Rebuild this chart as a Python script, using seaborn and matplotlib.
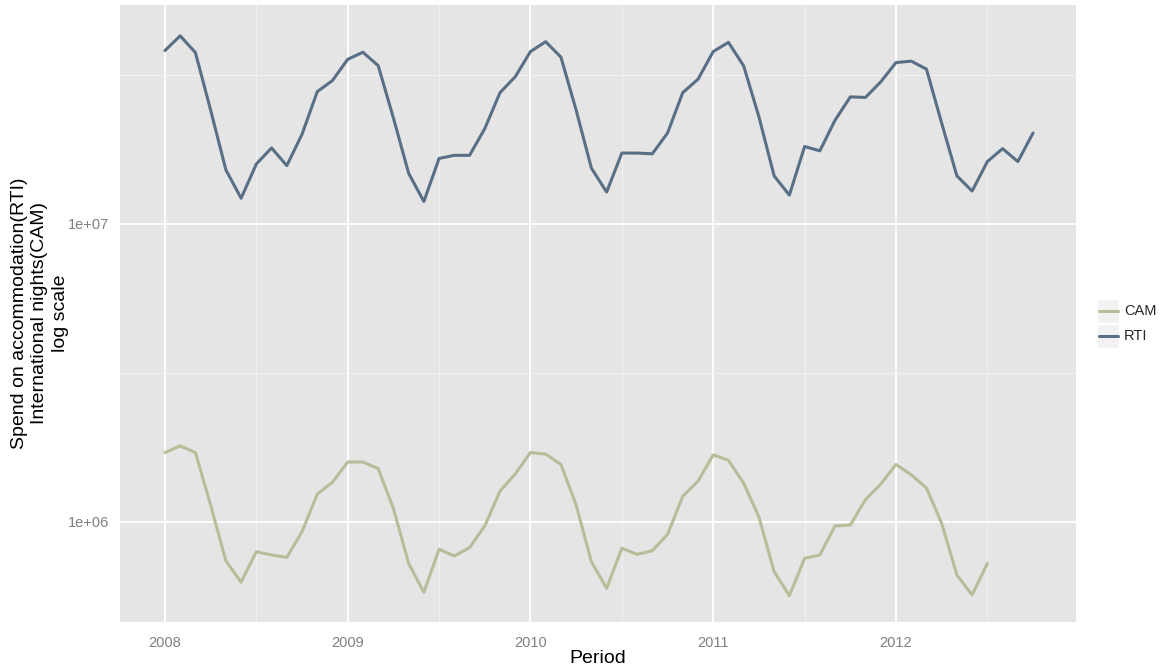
import matplotlib
matplotlib.use("Agg")
import matplotlib.pyplot as plt
from matplotlib.ticker import FixedLocator, FixedFormatter
from matplotlib.patches import Rectangle
import numpy as np
import pandas as pd
import seaborn as sns

# Monthly series starting January 2008
start_year = 2008

# Spend on accommodation (RTI), Jan 2008 - Oct 2012
rti_values = [
    38.2e6, 42.8e6, 37.6e6, 24.1e6, 15.2e6, 12.2e6, 15.9e6, 18.0e6, 15.7e6, 20.0e6, 27.8e6, 30.3e6,
    35.7e6, 37.7e6, 34.0e6, 22.7e6, 14.8e6, 11.9e6, 16.6e6, 17.0e6, 17.0e6, 20.9e6, 27.6e6, 31.2e6,
    37.9e6, 40.9e6, 36.3e6, 24.1e6, 15.4e6, 12.8e6, 17.3e6, 17.3e6, 17.2e6, 20.2e6, 27.6e6, 30.6e6,
    37.9e6, 40.7e6, 33.9e6, 22.9e6, 14.5e6, 12.5e6, 18.2e6, 17.6e6, 22.3e6, 26.7e6, 26.6e6, 30.0e6,
    34.8e6, 35.2e6, 33.1e6, 21.8e6, 14.5e6, 12.9e6, 16.2e6, 17.9e6, 16.2e6, 20.2e6,
]

# International nights (CAM), Jan 2008 - Jul 2012
cam_values = [
    1.71e6, 1.80e6, 1.71e6, 1.14e6, 741e3, 628e3, 795e3, 775e3, 761e3, 928e3, 1.24e6, 1.36e6,
    1.59e6, 1.59e6, 1.51e6, 1.11e6, 727e3, 581e3, 810e3, 769e3, 820e3, 970e3, 1.27e6, 1.45e6,
    1.71e6, 1.69e6, 1.56e6, 1.14e6, 736e3, 599e3, 816e3, 779e3, 801e3, 909e3, 1.22e6, 1.37e6,
    1.68e6, 1.61e6, 1.35e6, 1.04e6, 681e3, 566e3, 755e3, 775e3, 970e3, 977e3, 1.19e6, 1.34e6,
    1.56e6, 1.44e6, 1.30e6, 990e3, 664e3, 569e3, 727e3,
]

series_names = ["CAM", "RTI"]
series_colors = {"CAM": "#B6BE99", "RTI": "#586F86"}
year_ticks = [2008, 2009, 2010, 2011, 2012]
y_ticks = [1e6, 1e7]
y_tick_labels = ["1e+06", "1e+07"]


def monthly(values, name):
    t = start_year + np.arange(len(values)) / 12.0
    return pd.DataFrame({"Period": t, "value": values, "series": name})


df = pd.concat([monthly(cam_values, "CAM"), monthly(rti_values, "RTI")], ignore_index=True)

sns.set_style("darkgrid", {
    "axes.facecolor": "#E5E5E5",
    "grid.color": "white",
    "axes.edgecolor": "#E5E5E5",
})
plt.rcParams["font.family"] = ["Liberation Sans", "DejaVu Sans"]

fig = plt.figure(figsize=(11.62, 6.69), dpi=100)
W, H = 1162, 669
ax = fig.add_axes([120 / W, (H - 622) / H, (1076 - 120) / W, (622 - 5) / H])

sns.lineplot(data=df, x="Period", y="value", hue="series", hue_order=series_names,
             palette=series_colors, linewidth=2.2, ax=ax, legend=False, estimator=None)

ax.set_yscale("log")
ax.set_xlim(2007.754, 2012.985)
ax.set_ylim(10 ** 5.6644, 10 ** 7.7349)

ax.xaxis.set_major_locator(FixedLocator(year_ticks))
ax.xaxis.set_major_formatter(FixedFormatter([str(y) for y in year_ticks]))
ax.xaxis.set_minor_locator(FixedLocator([y + 0.5 for y in [2007] + year_ticks]))
ax.yaxis.set_major_locator(FixedLocator(y_ticks))
ax.yaxis.set_major_formatter(FixedFormatter(y_tick_labels))
ax.yaxis.set_minor_locator(FixedLocator([10 ** 5.5, 10 ** 6.5, 10 ** 7.5]))
ax.yaxis.set_minor_formatter(FixedFormatter(["", "", ""]))

ax.grid(which="major", color="white", linewidth=1.3)
ax.grid(which="minor", color="#F2F2F2", linewidth=0.7)
ax.set_axisbelow(True)
for s in ax.spines.values():
    s.set_visible(False)

ax.tick_params(axis="both", which="major", direction="out", length=5, width=1,
               color="#7F7F7F", labelcolor="#7F7F7F", labelsize=10.5, pad=3)
ax.tick_params(axis="x", which="major", pad=5)
ax.tick_params(axis="both", which="minor", length=0)

ax.set_xlabel("Period", fontsize=14, color="black", labelpad=0)
ax.set_ylabel("Spend on accommodation(RTI)\nInternational nights(CAM)\nlog scale",
              fontsize=14, color="black", linespacing=1.3)
ax.yaxis.set_label_coords(-0.053, 0.5)

# Legend with grey key boxes
key_rows = [(series_names[0], 311), (series_names[1], 336)]
for name, yc in key_rows:
    fig.patches.append(Rectangle(((1097) / W, (H - yc - 12) / H), 22 / W, 24 / H,
                                 transform=fig.transFigure, facecolor="#F2F2F2",
                                 edgecolor="white", linewidth=1))
    fig.lines.append(plt.Line2D([1099 / W, 1118 / W], [(H - yc) / H] * 2,
                                transform=fig.transFigure, color=series_colors[name],
                                linewidth=2.2))
    fig.text(1124 / W, (H - yc) / H, name, fontsize=10.5, va="center", ha="left")

fig.savefig("out.png", dpi=100)
